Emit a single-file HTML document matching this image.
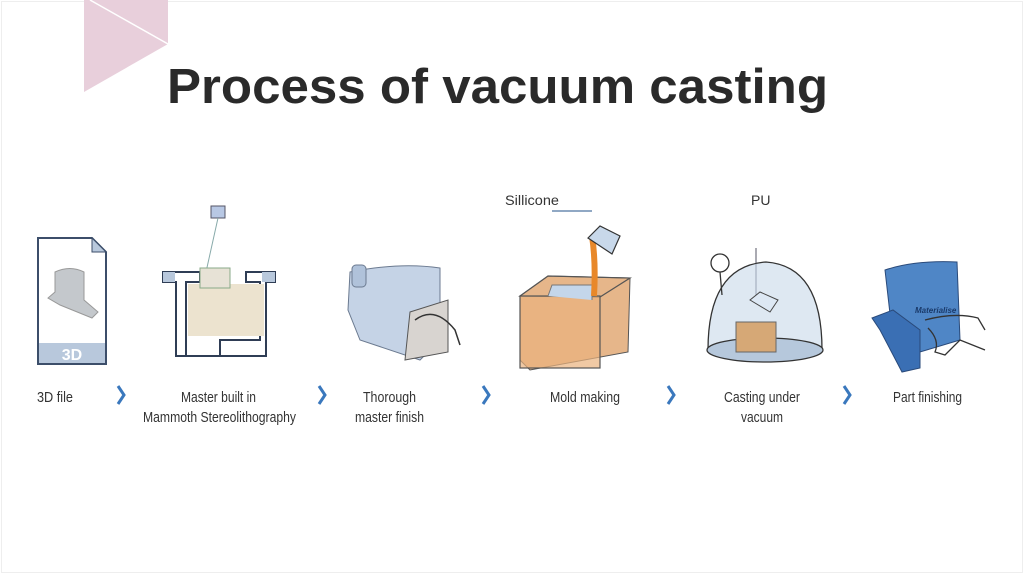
<!DOCTYPE html>
<html><head><meta charset="utf-8"><style>
html,body{margin:0;padding:0;background:#fff;}
body{width:1024px;height:574px;overflow:hidden;position:relative;font-family:"Liberation Sans",sans-serif;}
svg{position:absolute;left:0;top:0;}
</style></head><body>
<svg width="1024" height="574" viewBox="0 0 1024 574" font-family="Liberation Sans, sans-serif">
<rect x="1.5" y="1.5" width="1021" height="571" fill="none" stroke="#eee" stroke-width="1"/>
<polygon points="84,0 168,0 168,44 84,92" fill="#e8cfdb"/>
<line x1="90" y1="0" x2="168" y2="44" stroke="#fff" stroke-width="1.5"/>
<text x="167" y="103" font-size="49" font-weight="bold" fill="#2a2a2a" textLength="661" lengthAdjust="spacingAndGlyphs">Process of vacuum casting</text>

<!-- 3D file -->
<path d="M38,238 L92,238 L106,252 L106,364 L38,364 Z" fill="#fff" stroke="#3c4e6a" stroke-width="2"/>
<path d="M92,238 L92,252 L106,252 Z" fill="#b8c8dc" stroke="#3c4e6a" stroke-width="1"/>
<rect x="39" y="343" width="66" height="20" fill="#b8c8dc"/>
<text x="72" y="360" font-size="16" font-weight="bold" fill="#fff" text-anchor="middle">3D</text>
<path d="M55,272 Q70,265 84,272 L84,300 L98,312 L92,318 L60,305 L48,298 L55,292 Z" fill="#c4c8cc" stroke="#999" stroke-width="1"/>

<!-- Master SLA -->
<rect x="211" y="206" width="14" height="12" fill="#b8c8e4" stroke="#556" stroke-width="1"/>
<line x1="218" y1="218" x2="206" y2="272" stroke="#8aa" stroke-width="1"/>
<path d="M163,272 L200,272 L200,282 L186,282 L186,356 L220,356 L220,340 L260,340 L260,282 L246,282 L246,272 L275,272 L275,282 L266,282 L266,356 L186,356 L176,356 L176,282 L163,282 Z" fill="#fff" stroke="#2f3d55" stroke-width="2"/>
<rect x="188" y="284" width="76" height="52" fill="#ece3cf"/>
<rect x="200" y="268" width="30" height="20" fill="#e7e2d6" stroke="#8a8" stroke-width="1"/>
<rect x="163" y="272" width="12" height="10" fill="#b8c8dc"/>
<rect x="262" y="272" width="13" height="10" fill="#b8c8dc"/>

<!-- Thorough master finish -->
<path d="M350,272 Q400,262 440,268 L440,340 L420,360 L360,340 L348,310 Z" fill="#c5d3e6" stroke="#6b7a90" stroke-width="1"/>
<rect x="352" y="265" width="14" height="22" rx="4" fill="#b0c2da" stroke="#6b7a90"/>
<path d="M410,312 L448,300 L448,352 L405,360 Z" fill="#d8d4d0" stroke="#555"/>
<path d="M415,320 Q435,305 455,330 L460,345" fill="none" stroke="#333" stroke-width="1.5"/>

<!-- Mold making -->
<text x="505" y="205" font-size="14" fill="#333" textLength="54" lengthAdjust="spacingAndGlyphs">Sillicone</text>
<line x1="552" y1="211" x2="592" y2="211" stroke="#6b8bb0" stroke-width="1.5"/>
<path d="M520,296 L548,276 L630,278 L628,352 L530,370 L520,360 Z" fill="#e6b68a" stroke="#555" stroke-width="1"/>
<path d="M520,296 L548,276 L630,278 L600,297 Z" fill="none" stroke="#555" stroke-width="1.2"/>
<rect x="520" y="296" width="80" height="72" fill="#e9b27e" fill-opacity=".7" stroke="#555" stroke-width="1.2"/>
<path d="M548,296 L552,285 L592,285 L592,300" fill="#c4d6ea" stroke="#777"/>
<path d="M592,236 Q596,262 594,296" stroke="#e8882a" stroke-width="6" fill="none"/>
<path d="M588,238 L600,226 L620,236 L612,254 Z" fill="#c8d8ea" stroke="#333" stroke-width="1.2"/>

<!-- Casting under vacuum -->
<text x="751" y="205" font-size="14" fill="#333">PU</text>
<line x1="756" y1="248" x2="756" y2="298" stroke="#556" stroke-width="1"/>
<path d="M708,350 Q708,266 766,262 Q822,266 822,350 Z" fill="#c8d8ea" fill-opacity=".6" stroke="#333" stroke-width="1.3"/>
<ellipse cx="765" cy="350" rx="58" ry="12" fill="#b6c8dc" stroke="#333" stroke-width="1.3"/>
<circle cx="720" cy="263" r="9" fill="#fff" stroke="#333" stroke-width="1.3"/>
<line x1="720" y1="272" x2="722" y2="295" stroke="#333" stroke-width="1.3"/>
<rect x="736" y="322" width="40" height="30" fill="#d6a876" stroke="#666"/>
<path d="M750,300 L760,292 L778,300 L770,312 Z" fill="#dde8f4" stroke="#444"/>

<!-- Part finishing -->
<path d="M885,270 Q915,260 957,262 L960,340 L920,352 L893,340 Z" fill="#4f86c6" stroke="#2a4a7a"/>
<path d="M872,318 L893,310 L920,330 L920,368 L902,372 L880,330 Z" fill="#3a6fb4" stroke="#2a4a7a"/>
<text x="915" y="313" font-size="8" font-style="italic" font-weight="bold" fill="#1a3a6a">Materialise</text>
<path d="M925,320 Q955,312 978,318 L985,330 M928,328 Q940,340 935,352 L945,355 L960,340 L985,350" fill="none" stroke="#333" stroke-width="1.3"/>

<!-- chevrons -->
<g fill="none" stroke="#3a78bd" stroke-width="3" stroke-linejoin="miter">
<polyline points="118,386 124,395 118,404"/>
<polyline points="319,386 325,395 319,404"/>
<polyline points="483,386 489,395 483,404"/>
<polyline points="668,386 674,395 668,404"/>
<polyline points="844,386 850,395 844,404"/>
</g>

<g font-size="15" fill="#333" lengthAdjust="spacingAndGlyphs">
<text x="37" y="402" textLength="36" lengthAdjust="spacingAndGlyphs">3D file</text>
<text x="181" y="402" textLength="75" lengthAdjust="spacingAndGlyphs">Master built in</text>
<text x="143" y="422" textLength="153" lengthAdjust="spacingAndGlyphs">Mammoth Stereolithography</text>
<text x="363" y="402" textLength="53" lengthAdjust="spacingAndGlyphs">Thorough</text>
<text x="355" y="422" textLength="69" lengthAdjust="spacingAndGlyphs">master finish</text>
<text x="550" y="402" textLength="70" lengthAdjust="spacingAndGlyphs">Mold making</text>
<text x="724" y="402" textLength="76" lengthAdjust="spacingAndGlyphs">Casting under</text>
<text x="741" y="422" textLength="42" lengthAdjust="spacingAndGlyphs">vacuum</text>
<text x="893" y="402" textLength="69" lengthAdjust="spacingAndGlyphs">Part finishing</text>
</g>
</svg>
</body></html>
